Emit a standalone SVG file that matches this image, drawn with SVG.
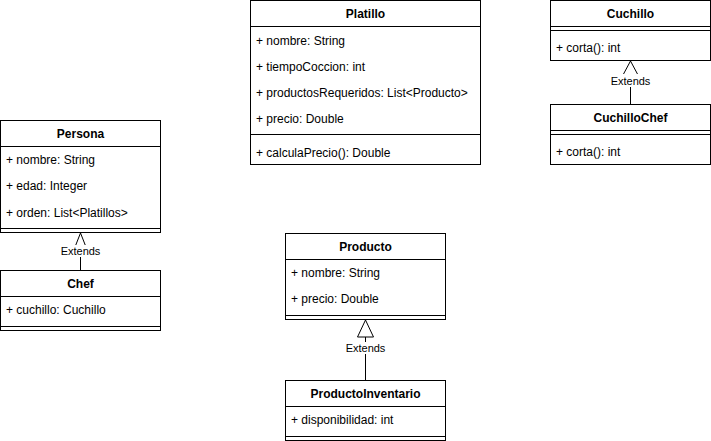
<svg xmlns="http://www.w3.org/2000/svg" width="711" height="441" viewBox="0 0 711 441">
<style>
.box{fill:#fff;stroke:#000;stroke-width:1}
.ln{stroke:#000;stroke-width:1;fill:none}
.t{font-family:"Liberation Sans",Arial,sans-serif;font-size:12px;fill:#000}
.h{font-family:"Liberation Sans",Arial,sans-serif;font-size:12px;font-weight:bold;fill:#000;text-anchor:middle}
.lbl{font-family:"Liberation Sans",Arial,sans-serif;font-size:11px;fill:#000;text-anchor:middle}
.tri{fill:#fff;stroke:#000;stroke-width:1}
</style>
<rect width="711" height="441" fill="#fff"/>
<g id="connectors">
  <g id="e1">
    <line class="ln" x1="80.5" y1="270" x2="80.5" y2="247"/>
    <polygon class="tri" points="80.5,233 75,247 86,247"/>
    <rect x="60" y="245" width="41" height="12" fill="#fff"/>
    <text class="lbl" x="80.5" y="255">Extends</text>
  </g>
  <g id="e2">
    <line class="ln" x1="630.5" y1="104" x2="630.5" y2="75"/>
    <polygon class="tri" points="630.5,61 623,75 638,75"/>
    <rect x="610" y="74" width="41" height="13" fill="#fff"/>
    <text class="lbl" x="630.5" y="85">Extends</text>
  </g>
  <g id="e3">
    <line class="ln" x1="365.5" y1="380" x2="365.5" y2="337"/>
    <polygon class="tri" points="365.5,320 357.5,337 373.5,337"/>
    <rect x="345" y="342" width="41" height="12" fill="#fff"/>
    <text class="lbl" x="365.5" y="352">Extends</text>
  </g>
</g>
<g id="Persona">
  <rect class="box" x="0.5" y="120.5" width="160" height="112"/>
  <line class="ln" x1="0.5" y1="146.5" x2="160.5" y2="146.5"/>
  <line class="ln" x1="0.5" y1="228.5" x2="160.5" y2="228.5"/>
  <text class="h" x="80.5" y="138">Persona</text>
  <text class="t" x="6" y="164">+ nombre: String</text>
  <text class="t" x="6" y="190">+ edad: Integer</text>
  <text class="t" x="6" y="217">+ orden: List&lt;Platillos&gt;</text>
</g>
<g id="Chef">
  <rect class="box" x="0.5" y="270.5" width="160" height="60"/>
  <line class="ln" x1="0.5" y1="296.5" x2="160.5" y2="296.5"/>
  <line class="ln" x1="0.5" y1="326.5" x2="160.5" y2="326.5"/>
  <text class="h" x="80.5" y="288">Chef</text>
  <text class="t" x="6" y="314">+ cuchillo: Cuchillo</text>
</g>
<g id="Platillo">
  <rect class="box" x="250.5" y="0.5" width="230" height="164"/>
  <line class="ln" x1="250.5" y1="26.5" x2="480.5" y2="26.5"/>
  <line class="ln" x1="250.5" y1="134.5" x2="480.5" y2="134.5"/>
  <text class="h" x="365.5" y="18">Platillo</text>
  <text class="t" x="256" y="45">+ nombre: String</text>
  <text class="t" x="256" y="71">+ tiempoCoccion: int</text>
  <text class="t" x="256" y="97">+ productosRequeridos: List&lt;Producto&gt;</text>
  <text class="t" x="256" y="123">+ precio: Double</text>
  <text class="t" x="256" y="157">+ calculaPrecio(): Double</text>
</g>
<g id="Cuchillo">
  <rect class="box" x="550.5" y="0.5" width="160" height="60"/>
  <line class="ln" x1="550.5" y1="26.5" x2="710.5" y2="26.5"/>
  <line class="ln" x1="550.5" y1="30.5" x2="710.5" y2="30.5"/>
  <text class="h" x="630.5" y="18">Cuchillo</text>
  <text class="t" x="556" y="52">+ corta(): int</text>
</g>
<g id="CuchilloChef">
  <rect class="box" x="550.5" y="104.5" width="160" height="60"/>
  <line class="ln" x1="550.5" y1="130.5" x2="710.5" y2="130.5"/>
  <line class="ln" x1="550.5" y1="134.5" x2="710.5" y2="134.5"/>
  <text class="h" x="630.5" y="122">CuchilloChef</text>
  <text class="t" x="556" y="156">+ corta(): int</text>
</g>
<g id="Producto">
  <rect class="box" x="285.5" y="233.5" width="160" height="86"/>
  <line class="ln" x1="285.5" y1="259.5" x2="445.5" y2="259.5"/>
  <line class="ln" x1="285.5" y1="315.5" x2="445.5" y2="315.5"/>
  <text class="h" x="365.5" y="251">Producto</text>
  <text class="t" x="291" y="277">+ nombre: String</text>
  <text class="t" x="291" y="303">+ precio: Double</text>
</g>
<g id="ProductoInventario">
  <rect class="box" x="285.5" y="380.5" width="160" height="60"/>
  <line class="ln" x1="285.5" y1="406.5" x2="445.5" y2="406.5"/>
  <line class="ln" x1="285.5" y1="436.5" x2="445.5" y2="436.5"/>
  <text class="h" x="365.5" y="398">ProductoInventario</text>
  <text class="t" x="291" y="424">+ disponibilidad: int</text>
</g>
</svg>
